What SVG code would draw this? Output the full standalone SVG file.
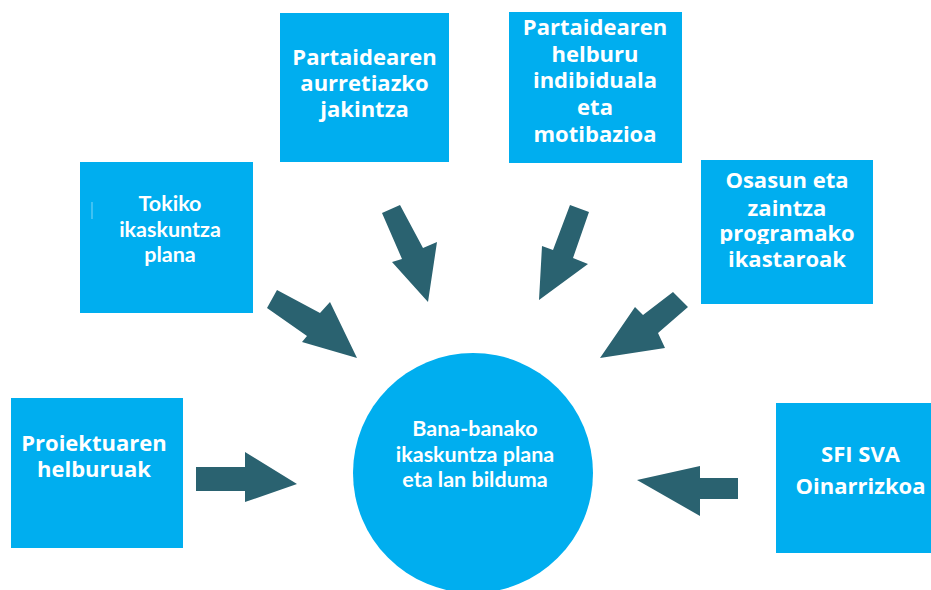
<svg xmlns="http://www.w3.org/2000/svg" width="931" height="590" viewBox="0 0 931 590">
<defs>
<style>
.box{fill:#00AEEF;}
.arrow{fill:#2A6270;}
.t{font-family:"Open Sans","DejaVu Sans",sans-serif;font-weight:700;font-size:22px;fill:#FFFFFF;text-anchor:middle;}
.c{font-family:Lato,"Liberation Sans",sans-serif;font-weight:700;font-size:21.5px;fill:#FFFFFF;text-anchor:middle;}
</style>
<clipPath id="clipProg"><rect x="701" y="222" width="172" height="22"/></clipPath>
</defs>
<rect width="931" height="590" fill="#FFFFFF"/>
<g id="connectors">
<polygon class="arrow" points="382,213 400,205 423,248 437,242 428,302 392,262 402,259"/>
<polygon class="arrow" points="570,205 589,212 573,258 588,264 539,300 542,246 553,250"/>
<polygon class="arrow" points="277,290 320,313 330,302 357,358 302,342 307,336 267,308"/>
<polygon class="arrow" points="673,292 688,307 658,333 665,348 600,358 635,307 643,315"/>
<polygon class="arrow" points="196,467 245,467 245,452 297,484 245,502 245,491 196,491"/>
<polygon class="arrow" points="738,478 700,478 700,466 637,480 700,516 700,499 738,499"/>
</g>
<g id="node-aurretiazko">
<rect class="box" x="280" y="13" width="169" height="149"/>
<text class="t" x="364.5" y="65">Partaidearen</text>
<text class="t" x="364.5" y="91">aurretiazko</text>
<text class="t" x="364.5" y="117">jakintza</text>
</g>
<g id="node-helburu">
<rect class="box" x="509" y="12" width="173" height="151"/>
<text class="t" x="595" y="35">Partaidearen</text>
<text class="t" x="595" y="62">helburu</text>
<text class="t" x="595" y="88">indibiduala</text>
<text class="t" x="595" y="115">eta</text>
<text class="t" x="595" y="142">motibazioa</text>
</g>
<g id="node-tokiko">
<rect class="box" x="80" y="162" width="173" height="151"/>
<line x1="92" y1="202" x2="92" y2="219" stroke="#7FD6F7" stroke-width="1"/>
<text class="c" x="170" y="211">Tokiko</text>
<text class="c" x="170" y="237">ikaskuntza</text>
<text class="c" x="170" y="262">plana</text>
</g>
<g id="node-osasun">
<rect class="box" x="701" y="160" width="172" height="144"/>
<text class="t" x="787" y="188">Osasun eta</text>
<text class="t" x="787" y="216">zaintza</text>
<text class="t" x="787" y="241" clip-path="url(#clipProg)">programako</text>
<text class="t" x="787" y="267">ikastaroak</text>
</g>
<g id="node-proiektuaren">
<rect class="box" x="11" y="398" width="172" height="150"/>
<text class="t" x="94" y="451">Proiektuaren</text>
<text class="t" x="94" y="477">helburuak</text>
</g>
<g id="node-sfi">
<rect class="box" x="776" y="403" width="170" height="150"/>
<text class="t" x="860.5" y="462">SFI SVA</text>
<text class="t" x="860.5" y="494">Oinarrizkoa</text>
</g>
<g id="node-center">
<circle class="box" cx="473" cy="473" r="120"/>
<text class="c" x="475" y="436">Bana-banako</text>
<text class="c" x="475" y="462">ikaskuntza plana</text>
<text class="c" x="475" y="487">eta lan bilduma</text>
</g>
</svg>
